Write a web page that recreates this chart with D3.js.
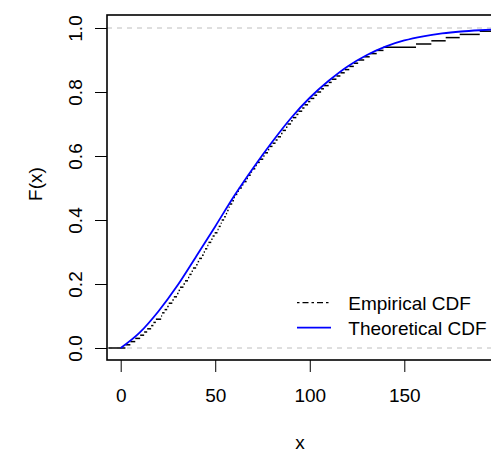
<!DOCTYPE html>
<html>
<head>
<meta charset="utf-8">
<script src="https://cdn.jsdelivr.net/npm/d3@7"></script>
<style>
  html, body { margin: 0; padding: 0; background: #fff; overflow: hidden; }
  svg { display: block; }
  text { font-family: "Liberation Sans", Arial, Helvetica, sans-serif; fill: #000; }
</style>
</head>
<body>
<svg id="chart" width="491" height="452"></svg>
<script>
// ---- data ----
// sorted sample (empirical CDF jumps by 1/100 at each value)
const sampleValues = [
  2.5, 5.1, 7.7, 10.3, 12.4, 14.0, 16.1, 17.3, 18.6, 21.4,
  21.9, 23.2, 24.6, 25.4, 27.3, 28.1, 29.8, 30.6, 31.4, 33.2,
  34.0, 35.6, 36.3, 37.5, 38.2, 39.9, 40.7, 41.5, 43.0, 43.9,
  44.6, 45.8, 46.4, 47.9, 48.6, 49.7, 51.2, 51.8, 52.9, 53.4,
  54.7, 55.6, 56.3, 57.1, 57.6, 59.0, 59.9, 60.4, 61.7, 62.5,
  64.1, 64.9, 66.6, 67.3, 68.8, 69.5, 71.2, 72.0, 73.6, 75.4,
  76.1, 77.9, 78.6, 80.3, 81.9, 83.0, 84.8, 85.6, 87.4, 88.2,
  90.1, 91.0, 92.9, 94.0, 96.0, 97.2, 99.1, 100.3, 102.4, 103.9,
  106.0, 107.5, 110.0, 111.6, 114.1, 116.2, 118.5, 120.9, 123.3, 125.6,
  128.8, 131.7, 135.4, 139.0, 156.2, 164.3, 171.9, 179.3, 189.9, 205.0
];
// theoretical CDF
const theoX = [0, 10, 20, 30, 40, 50, 60, 70, 80, 90, 100, 110, 120, 130, 140, 150, 160, 170, 180, 190, 200];
const theoF = [0, 0.048, 0.115, 0.195, 0.287, 0.38, 0.475, 0.562, 0.643, 0.718, 0.782, 0.835, 0.88, 0.915, 0.942, 0.961, 0.974, 0.983, 0.989, 0.993, 0.996];
const xTicks = [0, 50, 100, 150];
const yTicks = [0, 0.2, 0.4, 0.6, 0.8, 1.0];
const yTickLabels = ["0.0", "0.2", "0.4", "0.6", "0.8", "1.0"];
const legendLabels = ["Empirical CDF", "Theoretical CDF"];
const xLabel = "x";
const yLabel = "F(x)";

// ---- layout ----
const svg = d3.select("#chart");
const box = { left: 107, top: 15, bottom: 360, right: 530 };
const x = d3.scaleLinear().domain([0, 150]).range([120.7, 404.3]);
const y = d3.scaleLinear().domain([0, 1]).range([348, 28]);
const FS = 19;

svg.append("defs").append("clipPath").attr("id", "plotclip")
  .append("rect").attr("x", box.left).attr("y", box.top)
  .attr("width", box.right - box.left).attr("height", box.bottom - box.top);

const plot = svg.append("g").attr("clip-path", "url(#plotclip)");

// reference dashed lines at 0 and 1
plot.selectAll("line.ref").data([0, 1]).enter().append("line")
  .attr("class", "ref")
  .attr("x1", box.left).attr("x2", box.right)
  .attr("y1", d => y(d)).attr("y2", d => y(d))
  .attr("stroke", "#bebebe").attr("stroke-width", 1)
  .attr("stroke-dasharray", "5,5");

// empirical CDF: horizontal step segments
const n = sampleValues.length;
const knots = [-6.5].concat(sampleValues).concat([260]);
const segs = d3.range(n + 1).map(i => ({ x0: knots[i], x1: knots[i + 1], f: i / n }));
plot.selectAll("line.step").data(segs).enter().append("line")
  .attr("class", "step")
  .attr("x1", d => x(d.x0)).attr("x2", d => x(d.x1))
  .attr("y1", d => y(d.f)).attr("y2", d => y(d.f))
  .attr("stroke", "#000").attr("stroke-width", 1.5);

// theoretical CDF
const theo = theoX.map((v, i) => [v, theoF[i]]);
plot.append("path").datum(theo)
  .attr("fill", "none").attr("stroke", "#0000ff").attr("stroke-width", 1.8)
  .attr("d", d3.line().x(d => x(d[0])).y(d => y(d[1])).curve(d3.curveMonotoneX));

// box
svg.append("rect")
  .attr("x", box.left).attr("y", box.top)
  .attr("width", box.right - box.left).attr("height", box.bottom - box.top)
  .attr("fill", "none").attr("stroke", "#000").attr("stroke-width", 1.6);

// x axis
const gx = svg.append("g").attr("transform", `translate(0,${box.bottom})`)
  .call(d3.axisBottom(x).tickValues(xTicks).tickSize(12).tickPadding(16.5).tickFormat(d3.format("d")));
gx.select(".domain").remove();
gx.selectAll(".tick line").attr("stroke", "#000").attr("stroke-width", 1);
gx.selectAll(".tick text").attr("font-size", FS).attr("fill", "#000")
  .style("font-family", '"Liberation Sans", Arial, sans-serif');

// y axis
const gy = svg.append("g").attr("transform", `translate(${box.left},0)`)
  .call(d3.axisLeft(y).tickValues(yTicks).tickSize(12).tickFormat((d, i) => yTickLabels[i]));
gy.select(".domain").remove();
gy.selectAll(".tick line").attr("stroke", "#000").attr("stroke-width", 1);
gy.selectAll(".tick text")
  .attr("x", null).attr("dy", null)
  .attr("text-anchor", "middle")
  .attr("transform", "translate(-25.3,0) rotate(-90)")
  .attr("font-size", FS).attr("fill", "#000")
  .style("font-family", '"Liberation Sans", Arial, sans-serif');

// axis titles
svg.append("text").attr("x", 300).attr("y", 449)
  .attr("text-anchor", "middle").attr("font-size", FS).text(xLabel);
svg.append("text").attr("transform", "translate(42,184) rotate(-90)")
  .attr("text-anchor", "middle").attr("font-size", FS).text(yLabel);

// legend
const legendY = [302.7, 327.7];
const legendStyles = [
  { stroke: "#000", dash: "2.5,3,6,3", width: 1.3 },
  { stroke: "#0000ff", dash: null, width: 1.8 }
];
const lg = svg.append("g");
legendLabels.forEach((lab, i) => {
  lg.append("line")
    .attr("x1", 297).attr("x2", 331)
    .attr("y1", legendY[i]).attr("y2", legendY[i])
    .attr("stroke", legendStyles[i].stroke)
    .attr("stroke-width", legendStyles[i].width)
    .attr("stroke-dasharray", legendStyles[i].dash);
  lg.append("text").attr("x", 348.3).attr("y", legendY[i] + 6.8)
    .attr("font-size", FS).text(lab);
});
</script>
</body>
</html>
